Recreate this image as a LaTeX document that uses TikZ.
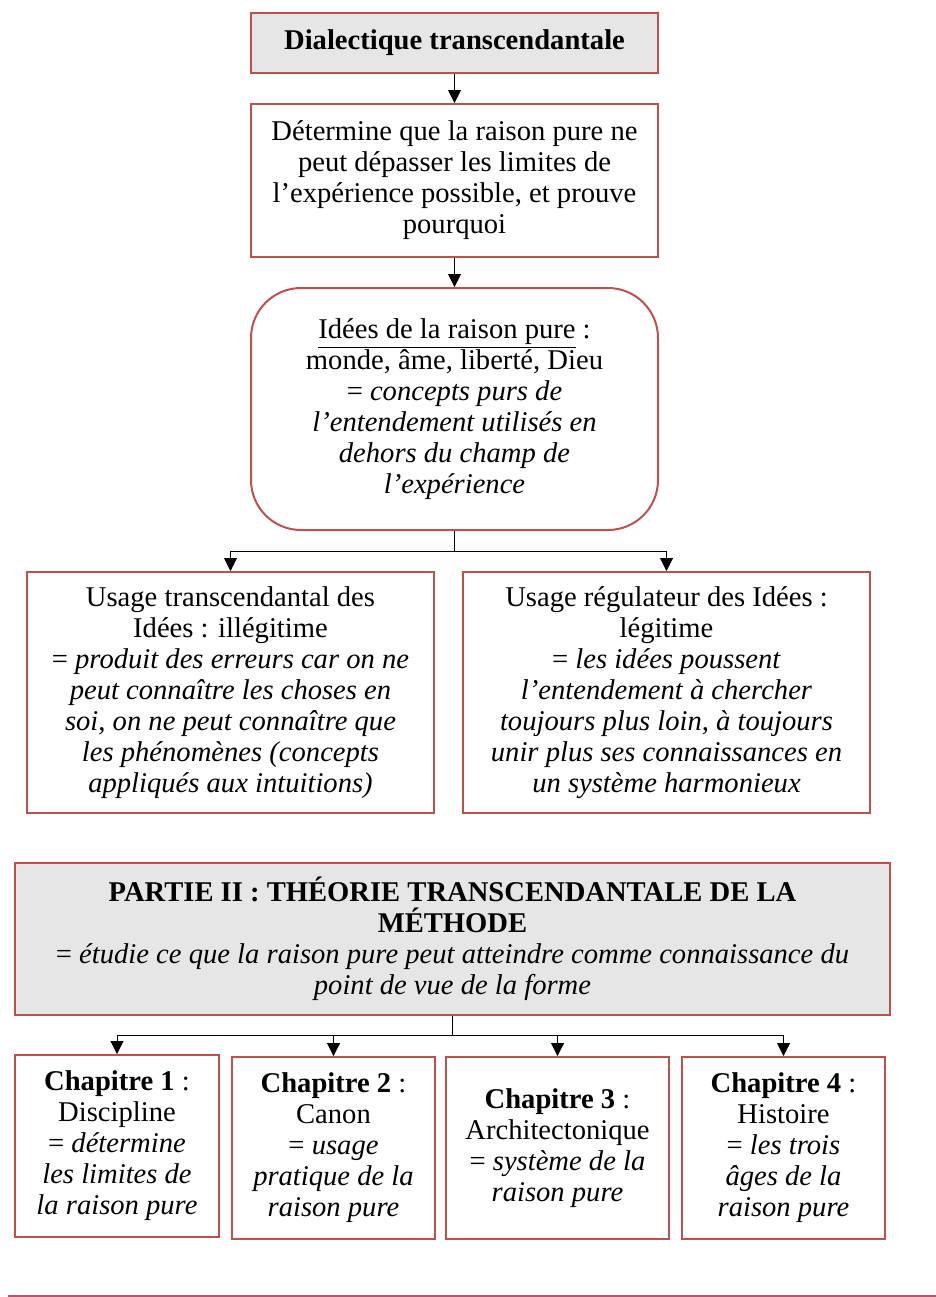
\documentclass[tikz,border=0pt]{standalone}
\usepackage{fontspec}
\setmainfont{Liberation Serif}
\usetikzlibrary{positioning,arrows.meta}
\definecolor{boxred}{HTML}{C0504D}
\definecolor{boxgrey}{HTML}{E6E6E6}
\definecolor{rulepink}{HTML}{C0506E}

\begin{document}
\begin{tikzpicture}[x=0.5pt, y=-0.5pt, font=\fontsize{14.3pt}{15.5pt}\selectfont,
  box/.style 2 args={draw=boxred, line width=1pt, align=center, inner sep=2pt, minimum width=#1, minimum height=#2},
  grey/.style={fill=boxgrey},
  arr/.style={-{Triangle[width=6.5pt,length=6.5pt]}, line width=0.5pt, black}]
\useasboundingbox (0,0) rectangle (936,1297);

% dialectique
\node[box={203.5pt}{30pt}, grey] (dial) at (454.5,43) {\textbf{Dialectique transcendantale}};
\node[box={203.5pt}{76.5pt}] (limit) at (454.5,180.5) {Détermine que la raison pure ne\\peut dépasser les limites de\\l’expérience possible, et prouve\\pourquoi};
\node[box={203.5pt}{121pt}, rounded corners=25pt] (idees) at (454.5,409) {\underline{Idées de la raison pure} :\\monde, âme, liberté, Dieu\\= \textit{concepts purs de}\\\textit{l’entendement utilisés en}\\\textit{dehors du champ de}\\\textit{l’expérience}};
\node[box={203.5pt}{120.5pt}] (transc) at (230.5,692.5) {Usage transcendantal des\\Idées : illégitime\\= \textit{produit des erreurs car on ne}\\\textit{peut connaître les choses en}\\\textit{soi, on ne peut connaître que}\\\textit{les phénomènes (concepts}\\\textit{appliqués aux intuitions)}};
\node[box={203.5pt}{120.5pt}] (regul) at (666.5,692.5) {Usage régulateur des Idées :\\légitime\\= \textit{les idées poussent}\\\textit{l’entendement à chercher}\\\textit{toujours plus loin, à toujours}\\\textit{unir plus ses connaissances en}\\\textit{un système harmonieux}};

% methode
\node[box={437.5pt}{76pt}, grey] (methode) at (452.5,939) {\textbf{PARTIE II : THÉORIE TRANSCENDANTALE DE LA}\\\textbf{MÉTHODE}\\= \textit{étudie ce que la raison pure peut atteindre comme connaissance du}\\\textit{point de vue de la forme}};
\node[box={102pt}{91pt}] (ch1) at (117,1146) {\textbf{Chapitre 1} :\\Discipline\\= \textit{détermine}\\\textit{les limites de}\\\textit{la raison pure}};
\node[box={101.5pt}{91pt}] (ch2) at (333.5,1148) {\textbf{Chapitre 2} :\\Canon\\= \textit{usage}\\\textit{pratique de la}\\\textit{raison pure}};
\node[box={111.5pt}{91pt}] (ch3) at (557.5,1148) {\textbf{Chapitre 3} :\\Architectonique\\= \textit{système de la}\\\textit{raison pure}};
\node[box={101.5pt}{91pt}] (ch4) at (783.5,1148) {\textbf{Chapitre 4} :\\Histoire\\= \textit{les trois}\\\textit{âges de la}\\\textit{raison pure}};

\coordinate (split1) at (454.5,551);
\coordinate (split2) at (452.5,1035);

\draw[arr] (dial) -- (limit);
\draw[arr] (limit) -- (idees);
\draw[line width=0.5pt] (idees) -- (split1);
\draw[arr] (split1) -| (transc);
\draw[arr] (split1) -| (regul);
\draw[line width=0.9pt] (methode) -- (split2);
\draw[arr] (split2) -| (ch1);
\draw[arr] (split2) -| (ch2);
\draw[arr] (split2) -| (ch3);
\draw[arr] (split2) -| (ch4);

\draw[rulepink, line width=1pt] (8,1295.5) -- (936,1295.5);
\end{tikzpicture}
\end{document}
